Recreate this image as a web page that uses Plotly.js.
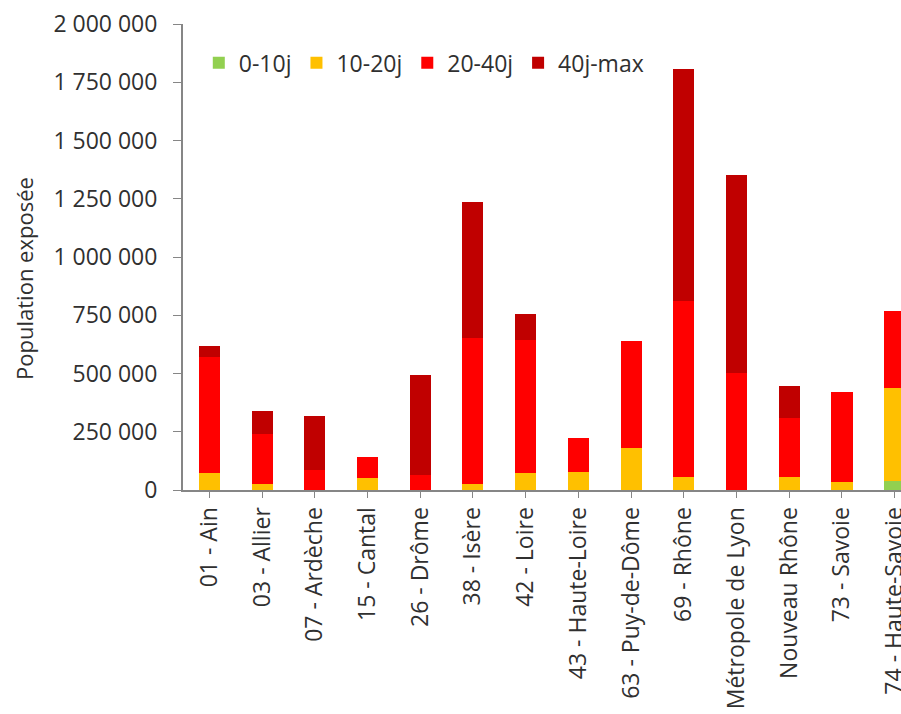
<!DOCTYPE html>
<html>
<head>
<meta charset="utf-8">
<script src="https://cdn.plot.ly/plotly-3.0.1.min.js"></script>
<style>html,body{margin:0;padding:0;overflow:hidden;background:#fff}</style>
</head>
<body>
<div id="chart" style="width:901px;height:714px"></div>
<script>
const categories = ["01 - Ain","03 - Allier","07 - Ardèche","15 - Cantal","26 - Drôme","38 - Isère","42 - Loire","43 - Haute-Loire","63 - Puy-de-Dôme","69 - Rhône","Métropole de Lyon","Nouveau Rhône","73 - Savoie","74 - Haute-Savoie"];
const seriesNames = ["0-10j","10-20j","20-40j","40j-max"];
const v0_10 =   [0,     0,      0,      0,     0,      0,      0,      0,      0,      0,      0,      0,      0,      40000];
const v10_20 =  [74000, 24000,  0,      50000, 0,      24000,  72000,  76000,  179000, 54000,  0,      54000,  36000,  396000];
const v20_40 =  [496000,215000, 86000,  93000, 64000,  630000, 572000, 146000, 462000, 757000, 501000, 254000, 386000, 334000];
const v40_max = [48000, 101000, 233000, 0,     430000, 581000, 111000, 0,      0,      995000, 851000, 138000, 0,      0];
const yTicks = [0,250000,500000,750000,1000000,1250000,1500000,1750000,2000000];
const yTitle = "Population exposée";
const colors = ["#92D050","#FFC000","#FF0000","#C00000"];
const values = [v0_10, v10_20, v20_40, v40_max];

const idx = categories.map((c,i)=>i);
const traces = values.map((vals,k)=>({
  type:'bar', name: seriesNames[k], x: idx, y: vals,
  marker:{color: colors[k], line:{width:0}}, width:0.4,
  hoverinfo:'skip'
}));

const font = "'Open Sans', 'Noto Sans', sans-serif";
const txt = '#303030';
const layout = {
  width:901, height:714,
  margin:{l:183, r:0, t:24, b:224},
  barmode:'stack',
  separators:', ',
  paper_bgcolor:'#fff', plot_bgcolor:'#fff',
  font:{family:font, color:txt, size:22},
  showlegend:true,
  legend:{orientation:'h', x:0.022, y:0.963, xanchor:'left', yanchor:'top',
          traceorder:'normal', itemwidth:30,
          font:{size:23, family:font, color:txt}, bgcolor:'rgba(0,0,0,0)'},
  xaxis:{
    range:[-0.5, 13.12], tickmode:'array', tickvals:idx, ticktext:categories,
    tickangle:-90, tickson:'boundaries', ticks:'outside', ticklen:6, tickcolor:'#868686',
    showline:true, linecolor:'#868686', linewidth:2, showgrid:false, zeroline:false,
    ticklabeloverflow:'allow',
    tickfont:{size:23, family:font, color:txt}, fixedrange:true
  },
  yaxis:{
    range:[0, 2000000], tickmode:'array', tickvals:yTicks, tickformat:',d',
    ticks:'outside', ticklen:8, tickcolor:'#868686', showline:true, linecolor:'#868686', linewidth:2,
    showgrid:false, zeroline:false, ticklabelstandoff:11,
    tickfont:{size:23, family:font, color:txt},
    fixedrange:true
  },
  annotations:[{
    text:yTitle, xref:'paper', yref:'paper', x:-0.2215, y:0.455,
    xanchor:'center', yanchor:'middle', textangle:-90, showarrow:false,
    font:{size:22, family:font, color:txt}
  }]
};
Plotly.newPlot('chart', traces, layout, {displayModeBar:false, staticPlot:true});
</script>
</body>
</html>
